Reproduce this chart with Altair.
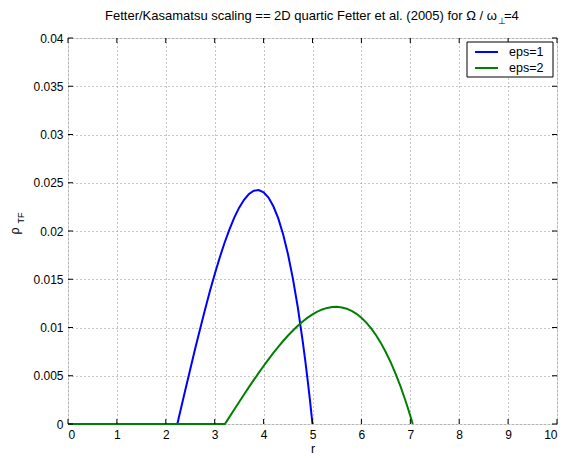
import altair as alt
import pandas as pd

# ---- data ----
r_eps1 = [0, 2.236, 2.3, 2.4, 2.5, 2.6, 2.7, 2.8, 2.9, 3.0, 3.1, 3.2, 3.3, 3.4, 3.5, 3.6, 3.7,
          3.8, 3.9, 4.0, 4.1, 4.2, 4.3, 4.4, 4.5, 4.6, 4.7, 4.8, 4.85, 4.9, 4.95, 5.0]
rho_eps1 = [0, 0, 0.00139, 0.00355, 0.00568, 0.00779, 0.00983, 0.01181, 0.01372, 0.01552,
            0.01720, 0.01876, 0.02015, 0.02138, 0.02242, 0.02324, 0.02383, 0.02417, 0.02424,
            0.02401, 0.02346, 0.02256, 0.02130, 0.01964, 0.01757, 0.01504, 0.01207, 0.00857,
            0.00664, 0.00457, 0.00236, 0]

r_eps2 = [0, 3.209, 3.3, 3.4, 3.5, 3.6, 3.7, 3.8, 3.9, 4.0, 4.1, 4.2, 4.3, 4.4, 4.5, 4.6, 4.7,
          4.8, 4.9, 5.0, 5.1, 5.2, 5.3, 5.4, 5.5, 5.6, 5.7, 5.8, 5.9, 6.0, 6.1, 6.2, 6.3, 6.4,
          6.5, 6.6, 6.7, 6.8, 6.9, 6.95, 7.0, 7.05]
rho_eps2 = [0, 0, 0.00071, 0.00150, 0.00228, 0.00305, 0.00382, 0.00457, 0.00530, 0.00601,
            0.00670, 0.00736, 0.00799, 0.00860, 0.00917, 0.00969, 0.01018, 0.01063, 0.01102,
            0.01136, 0.01164, 0.01187, 0.01203, 0.01212, 0.01214, 0.01208, 0.01195, 0.01172,
            0.01142, 0.01101, 0.01051, 0.00991, 0.00920, 0.00838, 0.00744, 0.00639, 0.00520,
            0.00389, 0.00244, 0.00166, 0.00084, 0]

series_names = ["eps=1", "eps=2"]
series_colors = ["#0000ff", "#008000"]

x_ticks = [0, 1, 2, 3, 4, 5, 6, 7, 8, 9, 10]
y_ticks = [0, 0.005, 0.01, 0.015, 0.02, 0.025, 0.03, 0.035, 0.04]

title_main = "Fetter/Kasamatsu scaling == 2D quartic Fetter et al. (2005) for Ω / ω"
title_sub = "⊥"
title_tail = "=4"
ylabel_main = "ρ"
ylabel_sub = "TF"
xlabel = "r"

# ---- layout ----
W, H = 489, 386
FONT = "Liberation Sans"
TICK = 5

assert len(r_eps1) == len(rho_eps1) and len(r_eps2) == len(rho_eps2)

df = pd.DataFrame({
    "r": r_eps1 + r_eps2,
    "rho": rho_eps1 + rho_eps2,
    "series": [series_names[0]] * len(r_eps1) + [series_names[1]] * len(r_eps2),
})

xs = alt.Scale(domain=[0, 10], nice=False, zero=False)
ys = alt.Scale(domain=[0, 0.04], nice=False, zero=False)

axis_common = dict(
    grid=True, gridDash=[1, 3], gridColor="#8c8c8c", gridWidth=1,
    domain=False, ticks=False, tickSize=0, labelPadding=5, labelFontSize=12,
    labelColor="black", labelFont=FONT,
)
x_axis = alt.Axis(
    values=x_ticks, format="d", title=xlabel, titleFontSize=12.5, titleFontWeight="normal",
    titleColor="black", titleFont=FONT, titleY=28, titleBaseline="alphabetic",
    **axis_common)
y_axis = alt.Axis(values=y_ticks, format="~r", title=None, **axis_common)

lines = alt.Chart(df).mark_line(strokeWidth=2).encode(
    x=alt.X("r:Q", scale=xs, axis=x_axis),
    y=alt.Y("rho:Q", scale=ys, axis=y_axis),
    color=alt.Color("series:N", scale=alt.Scale(domain=series_names, range=series_colors),
                    legend=None),
)

xt = pd.DataFrame({"t": x_ticks})
yt = pd.DataFrame({"t": y_ticks})

tick_bottom = alt.Chart(xt).mark_rule(color="black", strokeWidth=1).encode(
    x=alt.X("t:Q", scale=xs, axis=x_axis), y=alt.value(H), y2=alt.value(H - TICK))
tick_top = alt.Chart(xt).mark_rule(color="black", strokeWidth=1).encode(
    x=alt.X("t:Q", scale=xs, axis=x_axis), y=alt.value(0), y2=alt.value(TICK))
tick_left = alt.Chart(yt).mark_rule(color="black", strokeWidth=1).encode(
    y=alt.Y("t:Q", scale=ys, axis=y_axis), x=alt.value(0), x2=alt.value(TICK))
tick_right = alt.Chart(yt).mark_rule(color="black", strokeWidth=1).encode(
    y=alt.Y("t:Q", scale=ys, axis=y_axis), x=alt.value(W), x2=alt.value(W - TICK))

one = pd.DataFrame({"a": [0]})


def txt(s, x, y, size, align="left", baseline="alphabetic", angle=0):
    return alt.Chart(pd.DataFrame({"s": [s]})).mark_text(
        align=align, baseline=baseline, fontSize=size, angle=angle,
        color="black", font=FONT,
    ).encode(text="s:N", x=alt.value(x), y=alt.value(y))


# legend box
leg_box = alt.Chart(one).mark_rect(fill="white", stroke="black", strokeWidth=1).encode(
    x=alt.value(399), x2=alt.value(485), y=alt.value(4), y2=alt.value(39))
leg_layers = [leg_box]
for i, (name, col) in enumerate(zip(series_names, series_colors)):
    yy = 14 + 16 * i
    leg_layers.append(alt.Chart(one).mark_rule(color=col, strokeWidth=2).encode(
        x=alt.value(407), x2=alt.value(430), y=alt.value(yy)))
    leg_layers.append(txt(name, 441, yy, 12.5, baseline="middle"))

# title pieces
title_layers = [
    txt(title_main, 429, -18, 13, align="right"),
    txt(title_sub, 429.5, -14, 9, align="left"),
    txt(title_tail, 436, -18, 13, align="left"),
]

# y label pieces (rotated)
ylab_layers = [
    txt(ylabel_main, -53, 193, 12.5, align="center", baseline="middle", angle=270),
    txt(ylabel_sub, -47, 180, 9, align="center", baseline="middle", angle=270),
]

chart = alt.layer(
    lines, tick_bottom, tick_top, tick_left, tick_right,
    *leg_layers, *title_layers, *ylab_layers,
).properties(
    width=W, height=H,
    padding={"left": 68, "top": 38, "right": 15, "bottom": 34},
    autosize=alt.AutoSizeParams(type="none"),
).configure_view(
    stroke="black", strokeWidth=1,
).configure(
    font=FONT, background="white",
)

chart.save("out.html", embed_options={"renderer": "svg", "actions": False})
